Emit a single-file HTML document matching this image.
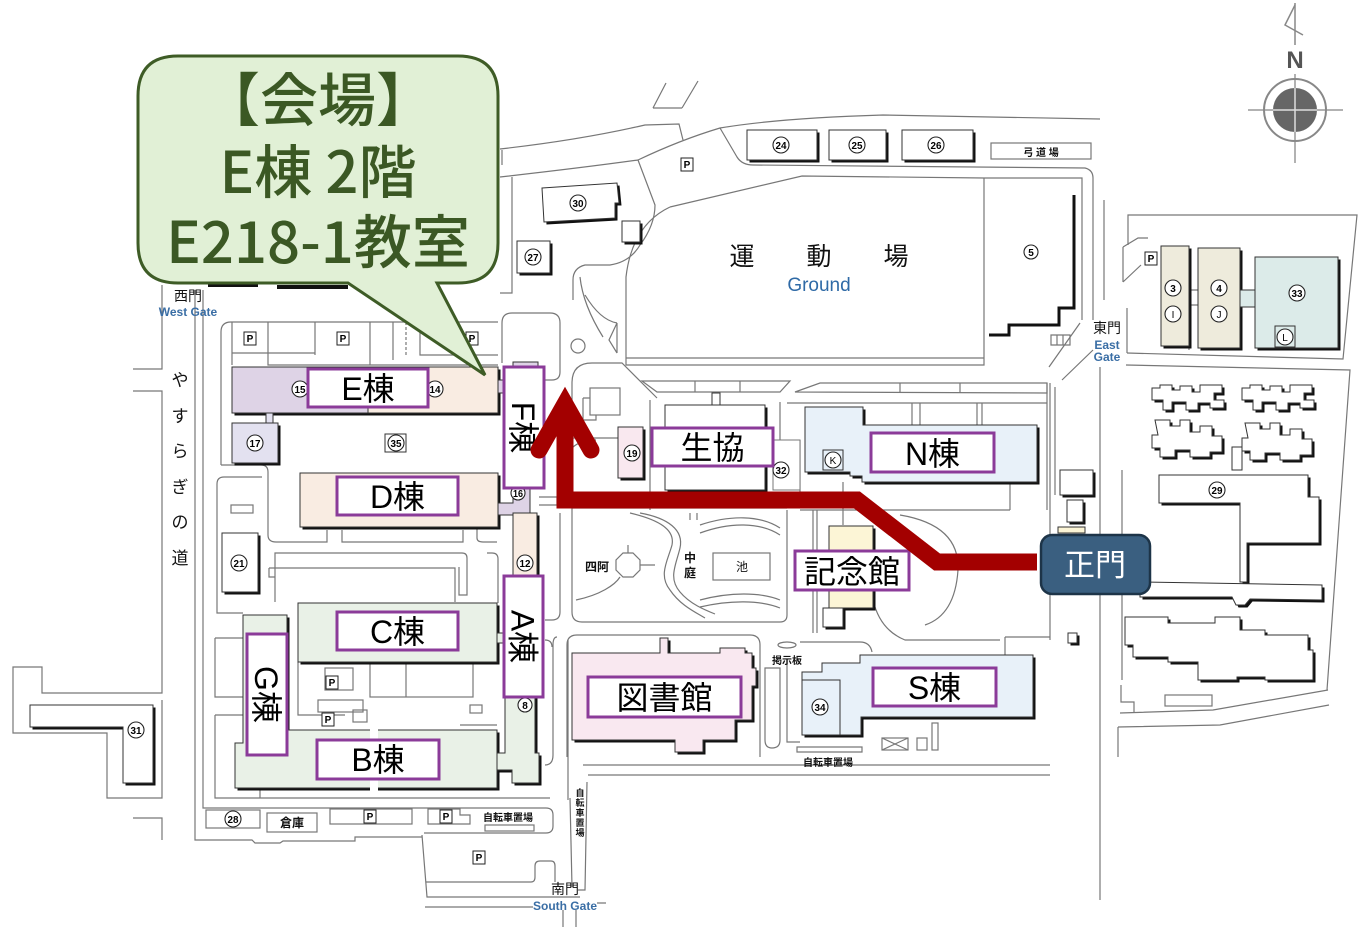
<!DOCTYPE html>
<html><head><meta charset="utf-8">
<style>
html,body{margin:0;padding:0;background:#fff;}
body{width:1364px;height:933px;overflow:hidden;}
svg{display:block;}
.l{fill:none;stroke:#777;stroke-width:1.2;}
.bo{stroke:#333;stroke-width:1;}
.sh{fill:#111;stroke:none;}
.lab{fill:#fff;stroke:#8b3b99;stroke-width:3;}
.lt{font-family:"Liberation Sans","Noto Sans CJK JP",sans-serif;font-size:32px;text-anchor:middle;fill:#000;}
.cn circle{fill:#fff;stroke:#222;stroke-width:1.1;}
.cn text{font-family:"Liberation Sans",sans-serif;font-weight:bold;font-size:10px;text-anchor:middle;fill:#000;}
.sm{font-family:"Liberation Sans","Noto Sans CJK JP",sans-serif;font-weight:bold;text-anchor:middle;fill:#111;}
.bl{font-family:"Liberation Sans",sans-serif;font-weight:bold;text-anchor:middle;fill:#3a6ea5;}
.pb rect{fill:#fff;stroke:#222;stroke-width:1;}
.pb text{font-family:"Liberation Sans",sans-serif;font-weight:bold;font-size:10px;text-anchor:middle;fill:#000;}
</style></head>
<body>
<svg width="1364" height="933" viewBox="0 0 1364 933" xmlns="http://www.w3.org/2000/svg">
<defs>
 <rect id="rE" x="232" y="367" width="266" height="46"/>
 <rect id="r17" x="232" y="423" width="46" height="40"/>
 <rect id="rD" x="300" y="473" width="198" height="54"/>
 <rect id="r12" x="513" y="513" width="24" height="64"/>
 <polygon id="p16" points="498,503 513,503 513,488 530,488 530,515 498,515"/>
 <polygon id="pA" points="505,575 535,575 535,753 539,753 539,783 512,783 512,770 497,770 497,753 505,753"/>
 <rect id="rC" x="298" y="603" width="199" height="59"/>
 <polygon id="pGB" points="243,615 287,615 287,730 497,730 497,788 235,788 235,743 243,743"/>
 <rect id="r21" x="222" y="533" width="36" height="59"/>
 <rect id="r19" x="618" y="427" width="25" height="51"/>
 <rect id="rSK" x="665" y="405" width="100" height="85"/>
 <polygon id="pN" points="805,407 863,407 863,425 1037,425 1037,482 862,482 862,476 850,476 850,472 805,472"/>
 <rect id="rKN" x="829" y="526" width="44" height="82"/>
 <rect id="rKN2" x="823" y="608" width="20" height="19"/>
 <polygon id="pL" points="572,653 660,653 660,638 668,638 668,653 720,653 720,648 745,648 745,653 752,653 752,668 756,668 756,686 752,686 752,720 735,720 735,740 703,740 703,752 675,752 675,740 572,740"/>
 <polygon id="pS" points="802,672 822,672 822,663 860,663 860,655 1033,655 1033,717 861,717 861,735 802,735"/>
 <rect id="r3" x="1161" y="246" width="28" height="100"/>
 <rect id="r4" x="1198" y="248" width="42" height="100"/>
 <rect id="r33" x="1255" y="257" width="83" height="91"/>
 <rect id="r24" x="747" y="130" width="70" height="30"/>
 <rect id="r25" x="829" y="130" width="57" height="30"/>
 <rect id="r26" x="902" y="130" width="71" height="30"/>
 <polygon id="p30" points="542,188 617,183 619,203 615,203 615,218 544,222"/>
 <rect id="r27" x="517" y="241" width="33" height="32"/>
 <rect id="rsm" x="622" y="221" width="18" height="21"/>
 <polygon id="p31" points="30,705 153,705 153,783 123,783 123,727 30,727"/>
 <polygon id="p29a" points="1159,475 1308,475 1308,497 1319,497 1319,543 1247,543 1247,582 1240,582 1240,503 1159,503"/>
 <polygon id="p29b" points="1140,582 1322,585 1322,600 1250,599 1245,605 1236,605 1232,597 1140,597"/>
 <polygon id="p29c" points="1125,617 1168,617 1168,623 1215,623 1215,617 1240,617 1240,630 1265,630 1265,635 1308,635 1308,650 1313,650 1313,680 1265,680 1265,677 1237,677 1237,680 1198,680 1198,662 1168,662 1168,657 1133,657 1133,645 1125,645"/>
 <polygon id="pR1" points="1152,388 1160,388 1160,385 1172,385 1172,390 1180,390 1180,386 1192,386 1192,392 1200,392 1200,385 1222,385 1222,393 1214,393 1214,400 1224,400 1224,408 1210,408 1210,403 1198,403 1198,410 1186,410 1186,402 1172,402 1172,410 1163,410 1163,400 1152,400"/>
 <polygon id="pR3" points="1155,420 1170,420 1170,426 1180,426 1180,420 1190,420 1190,432 1200,432 1200,426 1212,426 1212,436 1222,436 1222,452 1210,452 1210,457 1190,457 1190,450 1175,450 1175,457 1160,457 1160,448 1152,448 1152,435 1158,435"/>
 <rect id="rg1" x="1060" y="470" width="33" height="25"/>
 <rect id="rg2" x="1067" y="500" width="16" height="22"/>
</defs>

<g class="l">
 <path d="M162,285 V369 H133"/>
 <path d="M133,391 H162 V693 H42 V667 H13 V733 H107 V798 H162 V700"/>
 <path d="M133,818 H162 V840"/>
 <path d="M195,290 V840 H252 L255,843 H280 L283,841 H355 V837 H422"/>
 <path d="M203,290 V808 H546 Q553,808 553,815 V826 Q553,833 546,833 H424"/>
 <path d="M422,835 L427,897 H580"/>
 <path d="M426,882 H531 Q535,882 535,877 V866 Q535,861 540,861 H551 Q555,861 555,866 V882"/>
 <path d="M425,907 H533 M597,903 H606 M563,910 V927 M576,910 V927"/>
 <path d="M570,798 L572,887 M587,782 L585,890 H578"/>
 <rect x="206" y="810" width="54" height="18"/>
 <rect x="267" y="813" width="50" height="19"/>
 <rect x="330" y="809" width="82" height="15"/>
 <path d="M428,824 V809 H460 V815 H470 V824 Z"/>
 <rect x="485" y="825" width="49" height="6"/>
 <path d="M221,465 V332 Q221,322 231,322 H498"/>
 <path d="M232,322 V365 M232,353 H315 M268,322 V365 H498 M315,322 V355 M370,322 V365 M393,322 V360 M420,325 V355 H498"/>
 <path d="M406,322 V355" stroke-dasharray="3,2"/>
 <path d="M221,465 H261 Q268,465 268,472 V535 Q268,542 276,542 H327 V530"/>
 <path d="M243,613 H217 V484 Q217,477 224,477 H262"/>
 <rect x="231" y="505" width="22" height="8"/>
 <path d="M342,530 V542 H463 V530"/>
 <path d="M477,520 V538 Q477,542 483,542 H497"/>
 <path d="M275,602 V553 H462 Q467,553 467,558 V595 H459 V567 M269,568 H455 V602 M269,568 V577 H275"/>
 <path d="M487,553 H492 Q498,553 498,559 V603"/>
 <path d="M215,638 H243 M215,638 V697 H243 M215,715 H243 M215,715 V798 H550 M260,788 V798"/>
 <rect x="325" y="668" width="28" height="22"/>
 <rect x="318" y="700" width="45" height="12"/>
 <rect x="370" y="663" width="103" height="34"/>
 <path d="M406,663 V697"/>
 <rect x="353" y="710" width="14" height="12"/>
 <rect x="470" y="705" width="12" height="8"/>
 <path d="M298,662 V715 H345 M460,725 H497"/>
 <path d="M502,363 V323 Q502,313 512,313 H550 Q560,313 560,323 V372 Q560,380 552,380 H545"/>
 <path d="M539,497 H557 V505 H539"/>
 <path d="M560,513 V612 Q560,620 552,620 H545"/>
 <path d="M557,637 Q553,637 553,645 V755 Q553,765 545,765"/>
 <path d="M545,640 Q552,640 552,647"/>
 <path d="M572,383 V612 Q572,622 582,622 H780 Q787,622 787,615 V510"/>
 <path d="M568,640 V800"/>
 <path d="M567,757 V645 Q567,635 577,635 H750 Q760,635 760,645 V757"/>
 <path d="M583,765 H1050 M588,775 H1050"/>
 <path d="M500,149 Q580,140 645,125 L679,124 L683,140"/>
 <path d="M500,177 Q580,168 638,160 Q680,140 720,128 Q780,118 883,115 L1100,119"/>
 <path d="M720,128 L737,157 Q742,165 753,165 L1085,168 Q1093,170 1093,178 V320"/>
 <path d="M653,108 L666,83 M682,108 L698,81 M653,108 H682"/>
 <path d="M512,177 V293 H500 M502,150 V165"/>
 <path d="M638,160 L655,205 Q655,225 640,245 Q630,262 610,265 H585 Q573,268 573,280 V300"/>
 <path d="M670,207 Q632,225 626,277 V365 H984 V178"/>
 <path d="M670,207 L802,176 L984,178 H1082 V320"/>
 <path d="M626,358 H984"/>
 <path d="M580,277 Q583,305 603,337 M617,323 L609,340 L617,353 M617,323 V353 M585,295 Q600,320 617,323"/>
 <circle cx="578" cy="346" r="7"/>
 <path d="M572,383 Q572,363 592,363 H622 L657,398"/>
 <path d="M642,381 H790 L780,392 H657 Z M695,381 V392 M740,381 V392"/>
 <path d="M795,392 L820,383 H1047 V393 Z M900,383 V393 M960,383 V393"/>
 <path d="M650,400 V510 M780,402 V440 M800,440 V508 M787,403 H1047 M912,403 V425 M920,403 V425 M977,403 V425 M982,403 V425 M1047,383 V510 M843,482 V525 M1010,482 V510 M800,510 H1010"/>
 <rect x="590" y="388" width="30" height="27"/>
 <path d="M583,398 H590 M583,398 V420 H596 V415"/>
 <path d="M572,438 H618 M572,448 Q580,440 596,440"/>
 <path d="M572,508 H787"/>
 <path d="M630,513 C660,520 675,530 672,545 C668,560 658,575 670,590 C680,605 695,612 705,618"/>
 <path d="M640,513 C668,518 684,530 680,548 C676,565 668,578 680,592 C690,604 705,610 715,614"/>
 <path d="M700,525 C730,515 760,515 780,528 M700,533 C730,522 760,522 780,535"/>
 <path d="M700,600 C730,592 760,592 780,600 M700,607 C730,600 760,600 780,608"/>
 <path d="M690,513 V520 M697,513 V520 M576,600 C600,595 615,585 620,577"/>
 <polygon points="623,553 633,553 640,560 640,570 633,577 623,577 616,570 616,560"/>
 <path d="M628,545 V553 M640,565 H655"/>
 <rect x="713" y="553" width="57" height="27"/>
 <path d="M813,510 V633 M817,510 V633"/>
 <path d="M900,515 Q960,525 958,570 Q955,615 925,625"/>
 <path d="M873,600 Q880,630 905,640 H1000 M1005,637 V655 M1005,637 H1050 M1050,383 V640"/>
 <path d="M765,668 V740 Q765,748 772,748 Q780,748 780,740 V668 Z"/>
 <path d="M787,660 V742 H800"/>
 <ellipse cx="787" cy="645" rx="9" ry="3"/>
 <path d="M797,747 H862 V752 H797 Z"/>
 <rect x="882" y="738" width="26" height="12"/>
 <path d="M882,738 L908,750 M908,738 L882,750"/>
 <rect x="917" y="738" width="10" height="12"/>
 <rect x="932" y="723" width="6" height="27"/>
 <path d="M800,642 H860 Q870,642 872,652"/>
 <path d="M1104,200 V300"/>
 <path d="M1080,323 L1049,367 M1093,350 L1062,380"/>
 <path d="M1051,335 H1070 V345 H1051 Z M1057,335 V345 M1063,335 V345"/>
 <path d="M1055,387 V495 M1100,367 V900 M1122,470 V680 M1127,308 V353"/>
 <path d="M1128,245 V215 H1357 L1343,359 L1127,353"/>
 <path d="M1123,247 L1138,238 H1148 M1123,282 L1141,265 M1123,247 V282"/>
 <path d="M1126,365 L1350,370 L1327,690 M1120,713 L1213,710 L1328,690 M1118,727 L1220,725 L1329,705 M1118,727 V757"/>
 <path d="M1121,685 V702 H1134 V713"/>
 <rect x="1165" y="695" width="47" height="11"/>
 <path d="M1189,346 V350 M1189,290 H1198 M1189,305 H1198"/>
 <rect x="991" y="143" width="100" height="16"/>
</g>

<path d="M1074,195 V308 H1059 V325 H1009 V335 H989" fill="none" stroke="#111" stroke-width="3"/>

<rect x="208" y="283" width="50" height="4" fill="#111"/>
<rect x="277" y="285" width="71" height="4" fill="#111"/>

<g class="sh" transform="translate(2.5,2.5)">
 <use href="#rE"/><use href="#r17"/><use href="#rD"/><use href="#r12"/><use href="#pA"/>
 <use href="#rC"/><use href="#pGB"/><use href="#r21"/><use href="#r19"/><use href="#rSK"/>
 <use href="#pN"/><use href="#rKN"/><use href="#rKN2"/><use href="#pL"/><use href="#pS"/>
 <use href="#r3"/><use href="#r4"/><use href="#r33"/><use href="#r24"/><use href="#r25"/><use href="#r26"/>
 <use href="#p30"/><use href="#r27"/><use href="#rsm"/><use href="#p31"/>
 <use href="#p29a"/><use href="#p29b"/><use href="#p29c"/>
 <use href="#pR1"/><use href="#pR1" transform="translate(90,0)"/><use href="#pR3"/><use href="#pR3" transform="translate(90,3)"/>
 <use href="#rg1"/><use href="#rg2"/>
 <rect x="1068" y="633" width="9" height="10"/>
</g>
<g class="bo">
 <rect x="232" y="367" width="136" height="46" fill="#ded3e6"/>
 <rect x="368" y="367" width="130" height="46" fill="#f9ece2"/>
 <rect x="498" y="380" width="8" height="13" fill="#ded3e6"/>
 <rect x="266" y="413" width="7" height="10" fill="#e3e1f0"/>
 <use href="#r17" fill="#e3e1f0"/>
 <use href="#rD" fill="#f9ece2"/>
 <use href="#p16" fill="#ded3e6"/>
 <use href="#r12" fill="#f9ece2"/>
 <rect x="513" y="362" width="25" height="6" fill="#ded3e6"/>
 <use href="#pA" fill="#e9f1e7"/>
 <rect x="497" y="633" width="8" height="10" fill="#e9f1e7"/>
 <use href="#rC" fill="#e9f1e7"/>
 <use href="#pGB" fill="#e9f1e7"/>
 <use href="#r21" fill="#fff"/>
 <use href="#r19" fill="#f9e8ef"/>
 <rect x="712" y="393" width="8" height="12" fill="#fff"/>
 <use href="#rSK" fill="#fff"/>
 <rect x="773" y="440" width="27" height="50" fill="#fff" stroke="#777"/>
 <use href="#pN" fill="#e8f1f9"/>
 <use href="#rKN" fill="#fcf5d6"/>
 <use href="#rKN2" fill="#fff"/>
 <use href="#pL" fill="#f9e8f0"/>
 <use href="#pS" fill="#e8f1f9"/>
 <rect x="802" y="680" width="38" height="55" fill="#e8f1f9"/>
 <use href="#r3" fill="#eeebdc"/>
 <use href="#r4" fill="#eeebdc"/>
 <rect x="1240" y="290" width="15" height="17" fill="#dcebe9"/>
 <use href="#r33" fill="#dcebe9"/>
 <use href="#r24" fill="#fff"/><use href="#r25" fill="#fff"/><use href="#r26" fill="#fff"/>
 <use href="#p30" fill="#fff"/><use href="#r27" fill="#fff"/><use href="#rsm" fill="#fff"/>
 <use href="#p31" fill="#fff"/>
 <use href="#p29a" fill="#fff"/><use href="#p29b" fill="#fff"/><use href="#p29c" fill="#fff"/>
 <use href="#pR1" fill="#fff"/><use href="#pR1" transform="translate(90,0)" fill="#fff"/>
 <use href="#pR3" fill="#fff"/><use href="#pR3" transform="translate(90,3)" fill="#fff"/>
 <rect x="1232" y="447" width="10" height="23" fill="#fff"/>
 <use href="#rg1" fill="#fff"/><use href="#rg2" fill="#fff"/>
 <rect x="1058" y="527" width="27" height="6" fill="#fcf5d6"/>
 <rect x="1068" y="633" width="9" height="10" fill="#fff"/>
</g>
<rect x="370" y="728" width="8" height="64" fill="#fff"/>

<g class="cn">
 <circle cx="781" cy="145" r="8"/><text x="781" y="149" textLength="11" lengthAdjust="spacingAndGlyphs">24</text>
 <circle cx="857" cy="145" r="8"/><text x="857" y="149" textLength="11" lengthAdjust="spacingAndGlyphs">25</text>
 <circle cx="936" cy="145" r="8"/><text x="936" y="149" textLength="11" lengthAdjust="spacingAndGlyphs">26</text>
 <circle cx="578" cy="203" r="8"/><text x="578" y="207" textLength="11" lengthAdjust="spacingAndGlyphs">30</text>
 <circle cx="533" cy="257" r="8"/><text x="533" y="261" textLength="11" lengthAdjust="spacingAndGlyphs">27</text>
 <circle cx="1031" cy="252" r="7"/><text x="1031" y="256">5</text>
 <circle cx="1173" cy="288" r="8"/><text x="1173" y="292">3</text>
 <circle cx="1173" cy="314" r="8"/><text x="1173" y="318" style="font-weight:normal">I</text>
 <circle cx="1219" cy="288" r="8"/><text x="1219" y="292">4</text>
 <circle cx="1219" cy="314" r="8"/><text x="1219" y="318" style="font-weight:normal">J</text>
 <circle cx="1297" cy="293" r="8"/><text x="1297" y="297" textLength="11" lengthAdjust="spacingAndGlyphs">33</text>
 <rect x="1275" y="326" width="20" height="21" fill="none" stroke="#333"/>
 <circle cx="1285" cy="337" r="8"/><text x="1285" y="341" style="font-weight:normal">L</text>
 <circle cx="300" cy="389" r="8"/><text x="300" y="393" textLength="11" lengthAdjust="spacingAndGlyphs">15</text>
 <circle cx="435" cy="389" r="8"/><text x="435" y="393" textLength="11" lengthAdjust="spacingAndGlyphs">14</text>
 <circle cx="255" cy="443" r="8"/><text x="255" y="447" textLength="11" lengthAdjust="spacingAndGlyphs">17</text>
 <rect x="385" y="434" width="21" height="18" fill="none" stroke="#333"/>
 <circle cx="396" cy="443" r="8"/><text x="396" y="447" textLength="11" lengthAdjust="spacingAndGlyphs">35</text>
 <circle cx="518" cy="493" r="7"/><text x="518" y="497" textLength="10" lengthAdjust="spacingAndGlyphs">16</text>
 <circle cx="632" cy="453" r="8"/><text x="632" y="457" textLength="11" lengthAdjust="spacingAndGlyphs">19</text>
 <circle cx="781" cy="470" r="8"/><text x="781" y="474" textLength="11" lengthAdjust="spacingAndGlyphs">32</text>
 <rect x="823" y="450" width="20" height="20" fill="none" stroke="#333"/>
 <circle cx="833" cy="460" r="8"/><text x="833" y="464" style="font-weight:normal">K</text>
 <circle cx="1217" cy="490" r="8"/><text x="1217" y="494" textLength="11" lengthAdjust="spacingAndGlyphs">29</text>
 <circle cx="239" cy="563" r="8"/><text x="239" y="567" textLength="11" lengthAdjust="spacingAndGlyphs">21</text>
 <circle cx="525" cy="563" r="8"/><text x="525" y="567" textLength="11" lengthAdjust="spacingAndGlyphs">12</text>
 <circle cx="525" cy="705" r="7"/><text x="525" y="709">8</text>
 <circle cx="820" cy="707" r="8"/><text x="820" y="711" textLength="11" lengthAdjust="spacingAndGlyphs">34</text>
 <circle cx="136" cy="730" r="8"/><text x="136" y="734" textLength="11" lengthAdjust="spacingAndGlyphs">31</text>
 <circle cx="233" cy="819" r="8"/><text x="233" y="823" textLength="11" lengthAdjust="spacingAndGlyphs">28</text>
</g>

<g class="pb">
 <rect x="681" y="158" width="12" height="13"/><text x="687" y="168">P</text>
 <rect x="1145" y="252" width="12" height="13"/><text x="1151" y="262">P</text>
 <rect x="244" y="332" width="12" height="13"/><text x="250" y="342">P</text>
 <rect x="337" y="332" width="12" height="13"/><text x="343" y="342">P</text>
 <rect x="466" y="332" width="12" height="13"/><text x="472" y="342">P</text>
 <rect x="326" y="676" width="12" height="13"/><text x="332" y="686">P</text>
 <rect x="322" y="713" width="12" height="13"/><text x="328" y="723">P</text>
 <rect x="364" y="810" width="12" height="13"/><text x="370" y="820">P</text>
 <rect x="440" y="810" width="12" height="13"/><text x="446" y="820">P</text>
 <rect x="473" y="851" width="12" height="13"/><text x="479" y="861">P</text>
</g>

<text class="sm" x="188" y="301" style="font-size:14px;font-weight:normal">西門</text>
<text class="bl" x="188" y="316" style="font-size:12px">West Gate</text>
<text class="sm" x="1107" y="333" style="font-size:14px;font-weight:normal">東門</text>
<text class="bl" x="1107" y="349" style="font-size:12px">East</text>
<text class="bl" x="1107" y="361" style="font-size:12px">Gate</text>
<text class="sm" x="565" y="894" style="font-size:14px;font-weight:normal">南門</text>
<text class="bl" x="565" y="910" style="font-size:12px">South Gate</text>
<g class="sm" style="font-size:17px;font-weight:normal">
 <text x="180" y="386">や</text><text x="180" y="422">す</text><text x="180" y="457">ら</text>
 <text x="180" y="493">ぎ</text><text x="180" y="528">の</text><text x="180" y="564">道</text>
</g>
<g class="sm" style="font-size:25px;font-weight:normal">
 <text x="742" y="265">運</text><text x="819" y="265">動</text><text x="896" y="265">場</text>
</g>
<text x="819" y="291" style="font-family:'Liberation Sans',sans-serif;font-size:19px;fill:#2f6aa6;text-anchor:middle">Ground</text>
<text class="sm" x="1041" y="156" style="font-size:10px">弓 道 場</text>
<text class="sm" x="597" y="571" style="font-size:12px">四阿</text>
<text class="sm" x="690" y="562" style="font-size:12px">中</text>
<text class="sm" x="690" y="577" style="font-size:12px">庭</text>
<text class="sm" x="742" y="571" style="font-size:12px;font-weight:normal">池</text>
<text class="sm" x="787" y="664" style="font-size:10px">掲示板</text>
<text class="sm" x="828" y="766" style="font-size:10px">自転車置場</text>
<text class="sm" x="508" y="821" style="font-size:10px">自転車置場</text>
<text class="sm" x="292" y="827" style="font-size:12px">倉庫</text>
<g class="sm" style="font-size:9px">
 <text x="580" y="796">自</text><text x="580" y="806">転</text><text x="580" y="816">車</text><text x="580" y="826">置</text><text x="580" y="836">場</text>
</g>

<rect class="lab" x="308" y="369" width="120" height="38"/><text class="lt" x="368" y="400">E棟</text>
<rect class="lab" x="337" y="477" width="121" height="38"/><text class="lt" x="397.5" y="508">D棟</text>
<rect class="lab" x="337" y="612" width="121" height="38"/><text class="lt" x="397.5" y="643">C棟</text>
<rect class="lab" x="317" y="740" width="122" height="39"/><text class="lt" x="378" y="771">B棟</text>
<rect class="lab" x="247" y="634" width="40" height="121"/><text class="lt" transform="translate(267,694.5) rotate(90)" y="12">G棟</text>
<rect class="lab" x="504" y="576" width="39" height="121"/><text class="lt" transform="translate(523.5,636.5) rotate(90)" y="12">A棟</text>
<rect class="lab" x="504" y="367" width="40" height="121"/><text class="lt" transform="translate(524,427.5) rotate(90)" y="12">F棟</text>
<rect class="lab" x="652" y="428" width="121" height="38"/><text class="lt" x="712.5" y="459">生協</text>
<rect class="lab" x="871" y="433" width="123" height="39"/><text class="lt" x="932.5" y="465">N棟</text>
<rect class="lab" x="795" y="551" width="114" height="39"/><text class="lt" x="852" y="583">記念館</text>
<rect class="lab" x="588" y="677" width="153" height="40"/><text class="lt" x="664.5" y="709">図書館</text>
<rect class="lab" x="873" y="668" width="123" height="38"/><text class="lt" x="934.5" y="699">S棟</text>

<path d="M1037,562 H937 L857,500 H565 V410" fill="none" stroke="#a30000" stroke-width="17" stroke-linejoin="miter"/>
<polyline points="539,450 565,404 591,450" fill="none" stroke="#a30000" stroke-width="17" stroke-linecap="round" stroke-linejoin="miter" stroke-miterlimit="6"/>

<rect x="1041" y="535" width="109" height="59" rx="11" fill="#3a5f80" stroke="#1d3448" stroke-width="2.5"/>
<text x="1095" y="576" style="font-family:'Liberation Sans','Noto Sans CJK JP',sans-serif;font-size:31px;fill:#fff;text-anchor:middle">正門</text>

<path d="M178,56 H458 Q498,56 498,96 V243 Q498,283 458,283 H437 L485,375 L348,283 H178 Q138,283 138,243 V96 Q138,56 178,56 Z" fill="#e1f0d6" stroke="#3e5c26" stroke-width="3" stroke-linejoin="miter"/>
<g style="font-family:'Noto Sans CJK JP','Liberation Sans',sans-serif;font-size:58px;font-weight:500;fill:#3b5824;text-anchor:middle">
 <text x="318" y="121">【会場】</text>
 <text x="318" y="193">E棟 2階</text>
 <text x="318" y="263">E218-1教室</text>
</g>

<g>
 <line x1="1295" y1="3" x2="1295" y2="45" stroke="#888" stroke-width="1.5"/>
 <polyline points="1295,5 1285,25 1303,35" fill="none" stroke="#888" stroke-width="1.5"/>
 <text x="1295" y="68" style="font-family:'Liberation Sans',sans-serif;font-weight:bold;font-size:24px;fill:#555;text-anchor:middle">N</text>
 <line x1="1295" y1="74" x2="1295" y2="163" stroke="#999" stroke-width="1.5"/>
 <line x1="1248" y1="110" x2="1343" y2="110" stroke="#999" stroke-width="1.5"/>
 <circle cx="1295" cy="110" r="31" fill="none" stroke="#888" stroke-width="2"/>
 <circle cx="1295" cy="110" r="22" fill="#666"/>
 <line x1="1295" y1="88" x2="1295" y2="132" stroke="#ddd" stroke-width="1.5"/>
 <line x1="1273" y1="110" x2="1317" y2="110" stroke="#ddd" stroke-width="1.5"/>
</g>
</svg>
</body></html>
